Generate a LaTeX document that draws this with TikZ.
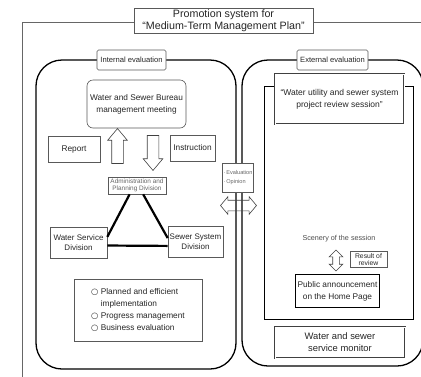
\documentclass[tikz,border=0pt]{standalone}
\usepackage{fontspec}
\setmainfont{Liberation Sans}
\newfontfamily\symfont{DejaVu Sans}
\usetikzlibrary{shapes.arrows}

\tikzset{
  box/.style={draw=black!65, line width=0.6pt, fill=white, align=center,
    inner sep=1pt, text=black!85, font=\fontsize{8.3}{12}\selectfont},
  tagbox/.style={box, rounded corners=1.5pt, minimum height=20pt,
    font=\fontsize{7.6}{9}\selectfont},
  tinybox/.style={box, text=black!60, font=\fontsize{6.4}{7.6}\selectfont},
  dblbox/.style={box, draw=black!75, line width=0.9pt, double=white,
    double distance=1pt},
  bigup/.style={single arrow, draw=black!75, line width=0.6pt, inner sep=5.5pt,
    minimum height=35pt, single arrow head extend=4pt, single arrow tip angle=80},
  twoway/.style={double arrow, draw=black!75, line width=0.6pt, inner sep=5pt,
    double arrow head extend=3.5pt, double arrow tip angle=100},
  tri/.style={line width=2.2pt},
  frame/.style={line width=1.3pt, rounded corners=26pt}
}

\begin{document}
\begin{tikzpicture}[x=1pt, y=-1pt]
  \clip (0,0) rectangle (421,376);
  \coordinate (F) at (22,22);

  % outer frame and the two evaluation areas
  \draw[black!60, line width=1pt] (F |- 0,380) -- (F) -- (430,22);
  \draw[frame] (36,60) rectangle (236,369);
  \draw[frame] (242,60) rectangle (423,366);
  \draw[line width=0.8pt] (264,86) rectangle (413,319);

  \node[box, minimum width=179pt, minimum height=25pt,
    font=\fontsize{10.7}{12.5}\selectfont] (title) at (223.5,20.5)
    {Promotion system for\\``Medium-Term Management Plan''};
  \node[tagbox, minimum width=69pt] (internal) at (131.5,60) {Internal evaluation};
  \node[tagbox, minimum width=71pt] (external) at (332.5,60) {External evaluation};

  % internal evaluation
  \node[box, rounded corners=6pt, minimum width=99pt, minimum height=48pt] (meeting)
    at (136.5,104) {Water and Sewer Bureau\\management meeting};
  \node[box, minimum width=52pt, minimum height=26pt] (report) at (74,149) {Report};
  \node[box, minimum width=45pt, minimum height=26pt] (instr) at (192.5,148) {Instruction};
  \node[bigup, shape border rotate=90] (up) at (117.5,149.5) {};
  \node[bigup, shape border rotate=270] (down) at (153,149.5) {};
  \node[tinybox, minimum width=58pt, minimum height=17pt] (admin) at (137,185.5)
    {Administration and\\Planning Division};
  \node[box, minimum width=57pt, minimum height=31pt, font=\fontsize{8}{10.5}\selectfont]
    (water) at (78.5,242.5) {Water Service\\Division};
  \node[box, minimum width=55pt, minimum height=31pt, font=\fontsize{8}{10.5}\selectfont]
    (sewer) at (195.5,241.5) {Sewer System\\Division};
  \draw[tri] (admin.230) -- (water.11);
  \draw[tri] (admin.305) -- (sewer.173);
  \draw[tri] (water.354) -- (sewer.189);
  \node[box, align=left, minimum width=128pt, minimum height=62pt,
    font=\fontsize{8.3}{11.7}\selectfont] (tasks) at (138,310)
    {{\symfont ○} Planned and efficient\\
     \phantom{{\symfont ○} }implementation\\
     {\symfont ○} Progress management\\
     {\symfont ○} Business evaluation};

  % exchange between the two sides
  \node[tinybox, align=left, minimum width=30pt, minimum height=29pt,
    font=\fontsize{5.6}{9}\selectfont] (opinion) at (238,177.5)
    {·\,Evaluation\\·\,Opinion};
  \node[twoway, minimum height=36pt] (swap) at (238.5,205.5) {};

  % external evaluation
  \node[dblbox, minimum width=129pt, minimum height=50pt,
    font=\fontsize{8.5}{12}\selectfont] (review) at (339.5,99)
    {``Water utility and sewer system\\project review session''};
  \node[text=black!70, font=\fontsize{7.2}{8}\selectfont] (scene) at (339,239)
    {Scenery of the session};
  \node[twoway, shape border rotate=90, inner sep=3pt, minimum height=21pt,
    double arrow head extend=3.5pt, double arrow tip angle=90] (updown) at (336,260.5) {};
  \node[box, minimum width=37pt, minimum height=16pt,
    font=\fontsize{6.8}{6.6}\selectfont] (result) at (368.5,259.5) {Result of\\review};
  \node[box, draw=black, line width=1.8pt, minimum width=84pt, minimum height=33pt]
    (public) at (337.5,291) {Public announcement\\on the Home Page};
  \node[dblbox, minimum width=130pt, minimum height=31pt,
    font=\fontsize{9.4}{12}\selectfont] (monitor) at (340,342.5)
    {Water and sewer\\service monitor};
\end{tikzpicture}
\end{document}
